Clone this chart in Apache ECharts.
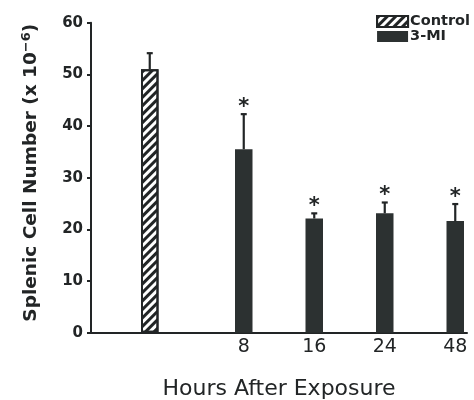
<!DOCTYPE html>
<html>
<head>
<meta charset="utf-8">
<script src="https://cdn.jsdelivr.net/npm/echarts@6/dist/echarts.min.js"></script>
<style>
html,body{margin:0;padding:0;background:#fff;}
#chart{width:474px;height:400px;}
</style>
</head>
<body>
<div id="chart"></div>
<script>
// ---- data ----
const xSlots = ['', '', 'Control', '', '', '', '8', '', '', '16', '', '', '24', '', '', '48'];
const controlLabel = ['Control'];
const controlMean = [51.0];
const controlSem = [3.1];
const hours = ['8', '16', '24', '48'];
const miMean = [35.5, 22.1, 23.1, 21.6];
const miSem = [6.8, 1.0, 2.1, 3.3];
const miSignificant = [true, true, true, true];
const yTicks = [0, 10, 20, 30, 40, 50, 60];

// ---- build series data ----
const ctrlData = xSlots.map(() => '-');
const miData = xSlots.map(() => '-');
const errData = [];
controlLabel.forEach((c, i) => {
  const k = xSlots.indexOf(c);
  ctrlData[k] = controlMean[i];
  errData.push([k, controlMean[i], controlMean[i] + controlSem[i], 0]);
});
hours.forEach((h, i) => {
  const k = xSlots.indexOf(h);
  miData[k] = miMean[i];
  errData.push([k, miMean[i], miMean[i] + miSem[i], miSignificant[i] ? 1 : 0]);
});

const FONT = '"DejaVu Sans", sans-serif';
const INK = '#222526';
const BAR = '#2c3131';

const chart = echarts.init(document.getElementById('chart'), null, {renderer: 'canvas'});
chart.setOption({
  animation: false,
  backgroundColor: '#fff',
  grid: {left: 91, right: 7, top: 22.7, bottom: 67.3, containLabel: false, outerBoundsMode: 'none'},
  legend: {
    data: ['Control', '3-MI'],
    orient: 'vertical',
    right: 4,
    top: 14,
    padding: 0,
    itemWidth: 31,
    itemHeight: 11,
    itemGap: 0,
    align: 'left',
    textStyle: {fontFamily: FONT, fontWeight: 'bold', fontSize: 14.5, color: INK, lineHeight: 14, padding: [0, 0, 0, -3]},
    icon: 'rect'
  },
  xAxis: {
    type: 'category',
    data: xSlots,
    boundaryGap: true,
    name: 'Hours After Exposure',
    nameLocation: 'middle',
    nameGap: 46,
    nameTextStyle: {fontFamily: FONT, fontSize: 22, color: INK},
    axisLine: {lineStyle: {color: INK, width: 2}},
    axisTick: {show: false},
    axisLabel: {
      interval: 0,
      margin: 5,
      fontFamily: FONT,
      fontSize: 19,
      color: INK,
      formatter: v => (controlLabel.indexOf(v) >= 0 ? '' : v)
    },
    splitLine: {show: false}
  },
  yAxis: {
    type: 'value',
    min: yTicks[0],
    max: yTicks[yTicks.length - 1],
    interval: 10,
    name: '{a|Splenic Cell Number (x 10}{s|−6}{a|)}',
    nameLocation: 'middle',
    nameGap: 49,
    nameTextStyle: {
      padding: [0, 0, 0, 10],
      rich: {
        a: {fontFamily: FONT, fontWeight: 'bold', fontSize: 18.5, color: INK},
        s: {fontFamily: FONT, fontWeight: 'bold', fontSize: 13, color: INK, verticalAlign: 'top', padding: [0, 0, 9, 0]}
      }
    },
    axisLine: {show: true, lineStyle: {color: INK, width: 2}},
    axisTick: {show: true, length: 4, lineStyle: {color: INK, width: 2}},
    axisLabel: {margin: 8, fontFamily: FONT, fontWeight: 'bold', fontSize: 15, color: INK},
    splitLine: {show: false}
  },
  series: [
    {
      name: 'Control',
      type: 'bar',
      data: ctrlData,
      barWidth: 17.5,
      barGap: '-100%',
      itemStyle: {
        color: '#ffffff',
        borderColor: INK,
        borderWidth: 2,
        decal: {
          symbol: 'rect',
          symbolSize: 1,
          dashArrayX: [1, 0],
          dashArrayY: [3, 3],
          rotation: -Math.PI / 4,
          color: INK
        }
      }
    },
    {
      name: '3-MI',
      type: 'bar',
      data: miData,
      barWidth: 17.5,
      barGap: '-100%',
      itemStyle: {color: BAR}
    },
    {
      name: 'err',
      type: 'custom',
      data: errData,
      z: 5,
      renderItem: function (params, api) {
        const x = api.value(0);
        const lo = api.coord([x, api.value(1)]);
        const hi = api.coord([x, api.value(2)]);
        const cx = lo[0];
        const children = [
          {type: 'line', shape: {x1: cx, y1: lo[1], x2: cx, y2: hi[1]}, style: {stroke: INK, lineWidth: 2.2}},
          {type: 'line', shape: {x1: cx - 3, y1: hi[1], x2: cx + 3, y2: hi[1]}, style: {stroke: INK, lineWidth: 2.2}}
        ];
        if (api.value(3) === 1) {
          children.push({
            type: 'text',
            style: {
              text: '*',
              x: cx,
              y: hi[1] - 7,
              textAlign: 'center',
              textVerticalAlign: 'middle',
              font: 'bold 21px ' + FONT,
              fill: INK
            }
          });
        }
        return {type: 'group', children: children};
      }
    }
  ]
});
</script>
</body>
</html>
